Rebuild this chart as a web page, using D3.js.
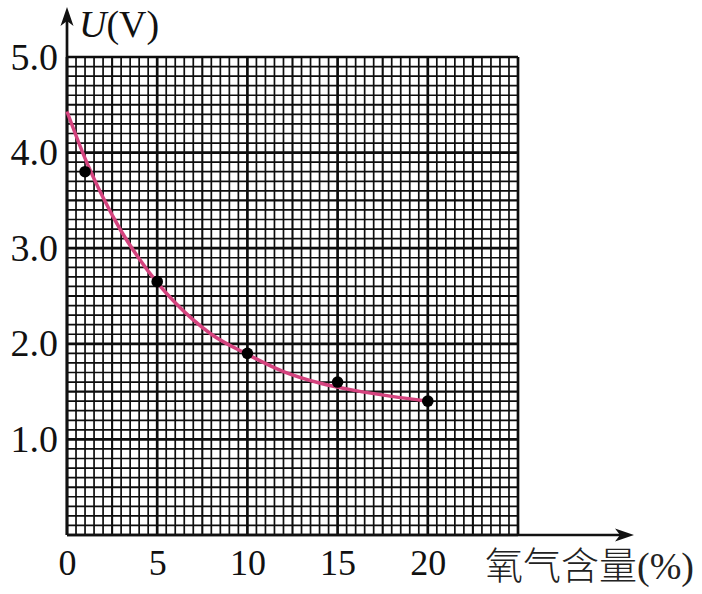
<!DOCTYPE html>
<html>
<head>
<meta charset="utf-8">
<script src="https://cdn.jsdelivr.net/npm/d3@7"></script>
<style>
  html, body { margin: 0; padding: 0; background: #fff; }
  svg { display: block; }
  .tick text { font-family: "Liberation Serif", "Times New Roman", serif; fill: #111; }
</style>
</head>
<body>
<svg id="chart" width="702" height="594"></svg>
<script>
// measured points: oxygen content (%) vs voltage U (V)
var o2Content = [1, 5, 10, 15, 20];
var voltage = [3.8, 2.65, 1.9, 1.6, 1.4];

// hand-drawn smooth curve
var curveX = [0, 1, 2, 3, 4, 5, 6, 7, 8, 10, 12, 14, 16, 18, 20];
var curveU = [4.43, 3.94, 3.53, 3.18, 2.89, 2.64, 2.43, 2.25, 2.10, 1.89, 1.71, 1.59, 1.51, 1.45, 1.40];

var xTicks = [0, 5, 10, 15, 20];
var yTicks = [1, 2, 3, 4, 5];

var svg = d3.select("#chart");

var x = d3.scaleLinear().domain([0, 25]).range([67, 518]);
var y = d3.scaleLinear().domain([0, 5]).range([535, 57]);

/**
 * 坐标纸网格
 */
var grid = svg.append("g").classed("grid", true);
var xGrid = d3.range(0, 51).map(function(i){ return i * 0.5; });
var yGrid = d3.range(0, 51).map(function(i){ return i * 0.1; });

function gridWidth(i){
    if(i % 10 === 0) return 2.7;
    if(i % 5 === 0) return 2.1;
    return 1.7;
}

grid.selectAll("line.vx")
    .data(xGrid)
    .enter().append("line")
    .classed("vx", true)
    .attr("x1", function(d){ return x(d); })
    .attr("x2", function(d){ return x(d); })
    .attr("y1", y(0))
    .attr("y2", y(5))
    .attr("stroke", "#0d0d0d")
    .attr("stroke-width", function(d, i){ return gridWidth(i); });

grid.selectAll("line.hy")
    .data(yGrid)
    .enter().append("line")
    .classed("hy", true)
    .attr("x1", x(0))
    .attr("x2", x(25))
    .attr("y1", function(d){ return y(d); })
    .attr("y2", function(d){ return y(d); })
    .attr("stroke", "#0d0d0d")
    .attr("stroke-width", function(d, i){ return gridWidth(i); });

// 坐标轴（带箭头）
svg.append("line")
    .attr("x1", x(0)).attr("y1", y(0))
    .attr("x2", x(0)).attr("y2", 14)
    .attr("stroke", "#111").attr("stroke-width", 2.7);
svg.append("line")
    .attr("x1", x(0)).attr("y1", y(0))
    .attr("x2", 626).attr("y2", y(0))
    .attr("stroke", "#111").attr("stroke-width", 2.7);

var ax = x(0);
svg.append("path")
    .attr("d", "M" + ax + ",7 L" + (ax + 6.5) + ",26 L" + ax + ",21 L" + (ax - 6.5) + ",26 Z")
    .attr("fill", "#111");
var ay = y(0);
svg.append("path")
    .attr("d", "M634," + ay + " L615," + (ay - 6.5) + " L620," + ay + " L615," + (ay + 6.5) + " Z")
    .attr("fill", "#111");

// 刻度文字
var yAxis = d3.axisLeft(y)
    .tickValues(yTicks)
    .tickSize(0)
    .tickPadding(9)
    .tickFormat(d3.format(".1f"));
var gy = svg.append("g")
    .attr("transform", "translate(" + x(0) + ",0)")
    .call(yAxis);
gy.select(".domain").remove();
gy.selectAll("text").style("font-size", "38px");

var xAxis = d3.axisBottom(x)
    .tickValues(xTicks)
    .tickSize(0)
    .tickPadding(14)
    .tickFormat(d3.format("d"));
var gx = svg.append("g")
    .attr("transform", "translate(0," + y(0) + ")")
    .call(xAxis);
gx.select(".domain").remove();
gx.selectAll("text").style("font-size", "36px");

// 轴标题
var uLabel = svg.append("text")
    .attr("x", 79)
    .attr("y", 37)
    .style("font-family", "'Liberation Serif', serif")
    .style("font-size", "38px")
    .attr("fill", "#111");
uLabel.append("tspan").style("font-style", "italic").text("U");
uLabel.append("tspan").text("(V)");

var xLabel = svg.append("text")
    .attr("x", 485)
    .attr("y", 579)
    .style("font-size", "38px")
    .attr("fill", "#222");
xLabel.append("tspan")
    .style("font-family", "'Noto Sans CJK SC', sans-serif")
    .style("font-weight", "300")
    .text("氧气含量");
xLabel.append("tspan")
    .style("font-family", "'Liberation Serif', serif")
    .text("(%)");

// 拟合曲线
var line = d3.line()
    .x(function(d){ return x(d[0]); })
    .y(function(d){ return y(d[1]); })
    .curve(d3.curveMonotoneX);

svg.append("path")
    .datum(d3.zip(curveX, curveU))
    .attr("d", line)
    .attr("fill", "none")
    .attr("stroke", "#d4437e")
    .attr("stroke-width", 3.5);

// 测量点
svg.selectAll("circle.pt")
    .data(d3.zip(o2Content, voltage))
    .enter().append("circle")
    .classed("pt", true)
    .attr("cx", function(d){ return x(d[0]); })
    .attr("cy", function(d){ return y(d[1]); })
    .attr("r", 5.8)
    .attr("fill", "#000");
</script>
</body>
</html>
